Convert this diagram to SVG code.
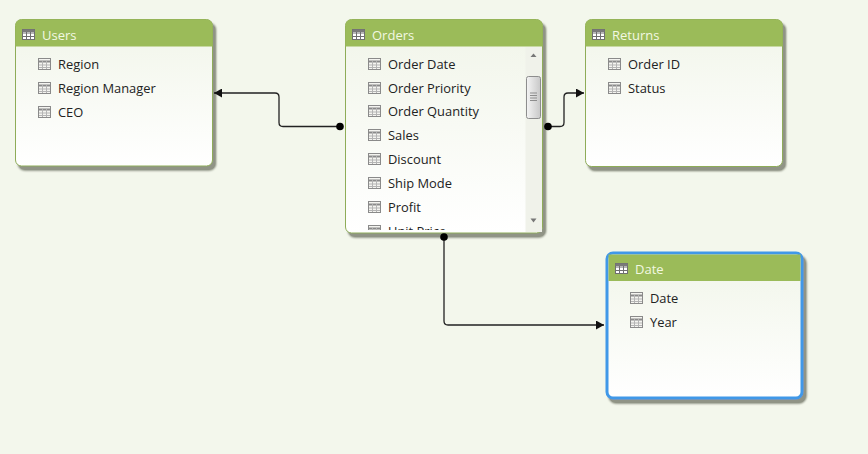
<svg xmlns="http://www.w3.org/2000/svg" xmlns:xlink="http://www.w3.org/1999/xlink" width="868" height="454" viewBox="0 0 868 454">
<style>
text{font-family:"Open Sans","Noto Sans","Liberation Sans",sans-serif}
.t{font-size:13px;fill:#f2f8e2}
.f{font-size:12.9px;fill:#222}
.c{fill:none;stroke:#222;stroke-width:1.3}
.card{fill:url(#body);stroke:#8eac58;stroke-width:1}
.hd{fill:#9bbb59}
</style>
<defs>
<linearGradient id="body" x1="0" y1="0" x2="0" y2="1"><stop offset="0" stop-color="#f1f5e9"/><stop offset="1" stop-color="#ffffff"/></linearGradient>
<linearGradient id="thumb" x1="0" y1="0" x2="1" y2="0"><stop offset="0" stop-color="#f4f4f4"/><stop offset="1" stop-color="#c8c8c8"/></linearGradient>
<filter id="sh" x="-10%" y="-10%" width="120%" height="120%"><feGaussianBlur in="SourceAlpha" stdDeviation="1.300"/><feOffset dx="3" dy="3.500"/><feComponentTransfer><feFuncA type="linear" slope="1.300"/></feComponentTransfer><feColorMatrix values="0 0 0 0 .28 0 0 0 0 .3 0 0 0 0 .24 0 0 0 1 0"/><feMerge><feMergeNode/><feMergeNode in="SourceGraphic"/></feMerge></filter>
<marker id="arr" markerWidth="9" markerHeight="9" refX="8" refY="4.500" orient="auto" markerUnits="userSpaceOnUse"><path d="M0 0L8 4.500L0 9Z" fill="#111"/></marker>
<g id="ti"><rect x=".5" y=".5" width="12" height="10" fill="#fff" stroke="#6f6f6f"/><path d="M.5 4H12M.5 7.500H12M4.500 .5V10.500M8.500 .5V10.500" stroke="#6f6f6f" stroke-width="1" fill="none"/><rect x=".5" y=".5" width="12" height="2.500" fill="#7a7a7a"/></g>
<g id="fi"><rect x=".5" y=".5" width="12" height="11" fill="#f4f4f0" stroke="#8a8a8a"/><path d="M1 3.500H12" stroke="#8a8a8a" stroke-width="2"/><path d="M1 7H12M1 9.500H12M4.500 3V11M8.500 3V11" stroke="#b4b4b4" stroke-width="1" fill="none"/></g>
<clipPath id="oc"><rect x="346" y="225" width="180" height="5"/></clipPath>
</defs>
<rect width="868" height="454" fill="#f3f7ec"/>
<g id="users">
<rect class="card" x="15.500" y="19.500" width="197" height="146.500" rx="6" filter="url(#sh)"/>
<path class="hd" d="M15.500 46.500V25.500a6 6 0 0 1 6-6H206.500a6 6 0 0 1 6 6V46.500Z"/>
<use xlink:href="#ti" x="22" y="29"/>
<text class="t" x="42" y="40">Users</text>
<use xlink:href="#fi" x="38" y="58"/><text class="f" x="58" y="69">Region</text>
<use xlink:href="#fi" x="38" y="82"/><text class="f" x="58" y="93">Region Manager</text>
<use xlink:href="#fi" x="38" y="106"/><text class="f" x="58" y="117">CEO</text>
</g>
<g id="orders">
<rect class="card" x="345.500" y="19.500" width="197" height="213.500" rx="6" filter="url(#sh)"/>
<path class="hd" d="M345.500 46.500V25.500a6 6 0 0 1 6-6H536.500a6 6 0 0 1 6 6V46.500Z"/>
<use xlink:href="#ti" x="352" y="29"/>
<text class="t" x="372" y="40">Orders</text>
<use xlink:href="#fi" x="368" y="58"/><text class="f" x="388" y="69">Order Date</text>
<use xlink:href="#fi" x="368" y="82"/><text class="f" x="388" y="93">Order Priority</text>
<use xlink:href="#fi" x="368" y="105"/><text class="f" x="388" y="116">Order Quantity</text>
<use xlink:href="#fi" x="368" y="129"/><text class="f" x="388" y="140">Sales</text>
<use xlink:href="#fi" x="368" y="153"/><text class="f" x="388" y="164">Discount</text>
<use xlink:href="#fi" x="368" y="177"/><text class="f" x="388" y="188">Ship Mode</text>
<use xlink:href="#fi" x="368" y="201"/><text class="f" x="388" y="212">Profit</text>
<g clip-path="url(#oc)"><use xlink:href="#fi" x="368" y="225"/><text class="f" x="388" y="236">Unit Price</text></g>
<rect x="525.500" y="47" width="16.500" height="185" fill="#f0f2ea"/>
<path d="M533.500 53.500L536.500 57H530.500Z" fill="#777"/>
<path d="M533.500 222.500L536.500 218.500H530.500Z" fill="#777"/>
<rect x="526.500" y="76.500" width="14" height="42" rx="2" fill="url(#thumb)" stroke="#8d8d8d"/>
<path d="M530 93H537M530 95.500H537M530 98H537M530 100.500H537" stroke="#8d8d8d" stroke-width="1"/>
</g>
<g id="returns">
<rect class="card" x="585.500" y="19.500" width="197" height="147" rx="6" filter="url(#sh)"/>
<path class="hd" d="M585.500 46.500V25.500a6 6 0 0 1 6-6H776.500a6 6 0 0 1 6 6V46.500Z"/>
<use xlink:href="#ti" x="592" y="29"/>
<text class="t" x="612" y="40">Returns</text>
<use xlink:href="#fi" x="608" y="58"/><text class="f" x="628" y="69">Order ID</text>
<use xlink:href="#fi" x="608" y="82"/><text class="f" x="628" y="93">Status</text>
</g>
<g id="date">
<rect x="607" y="253" width="195" height="145" rx="6" fill="url(#body)" stroke="#3f98e8" stroke-width="3" filter="url(#sh)"/>
<rect class="hd" x="608.500" y="254.500" width="192" height="26.500"/>
<use xlink:href="#ti" x="615" y="263"/>
<text class="t" x="635" y="274">Date</text>
<use xlink:href="#fi" x="630" y="292"/><text class="f" x="650" y="303">Date</text>
<use xlink:href="#fi" x="630" y="316"/><text class="f" x="650" y="327">Year</text>
</g>
<g id="connectors">
<path class="c" d="M340 126.500H283Q279 126.500 279 122.500V97Q279 93 275 93H214" marker-end="url(#arr)"/>
<path class="c" d="M548 126.500H560Q564 126.500 564 122.500V97Q564 93 568 93H584" marker-end="url(#arr)"/>
<path class="c" d="M444 237V321Q444 325 448 325H604" marker-end="url(#arr)"/>
<circle cx="340" cy="126.500" r="3.800" fill="#000"/>
<circle cx="548" cy="126.500" r="3.800" fill="#000"/>
<circle cx="444" cy="237" r="3.800" fill="#000"/>
</g>
</svg>
